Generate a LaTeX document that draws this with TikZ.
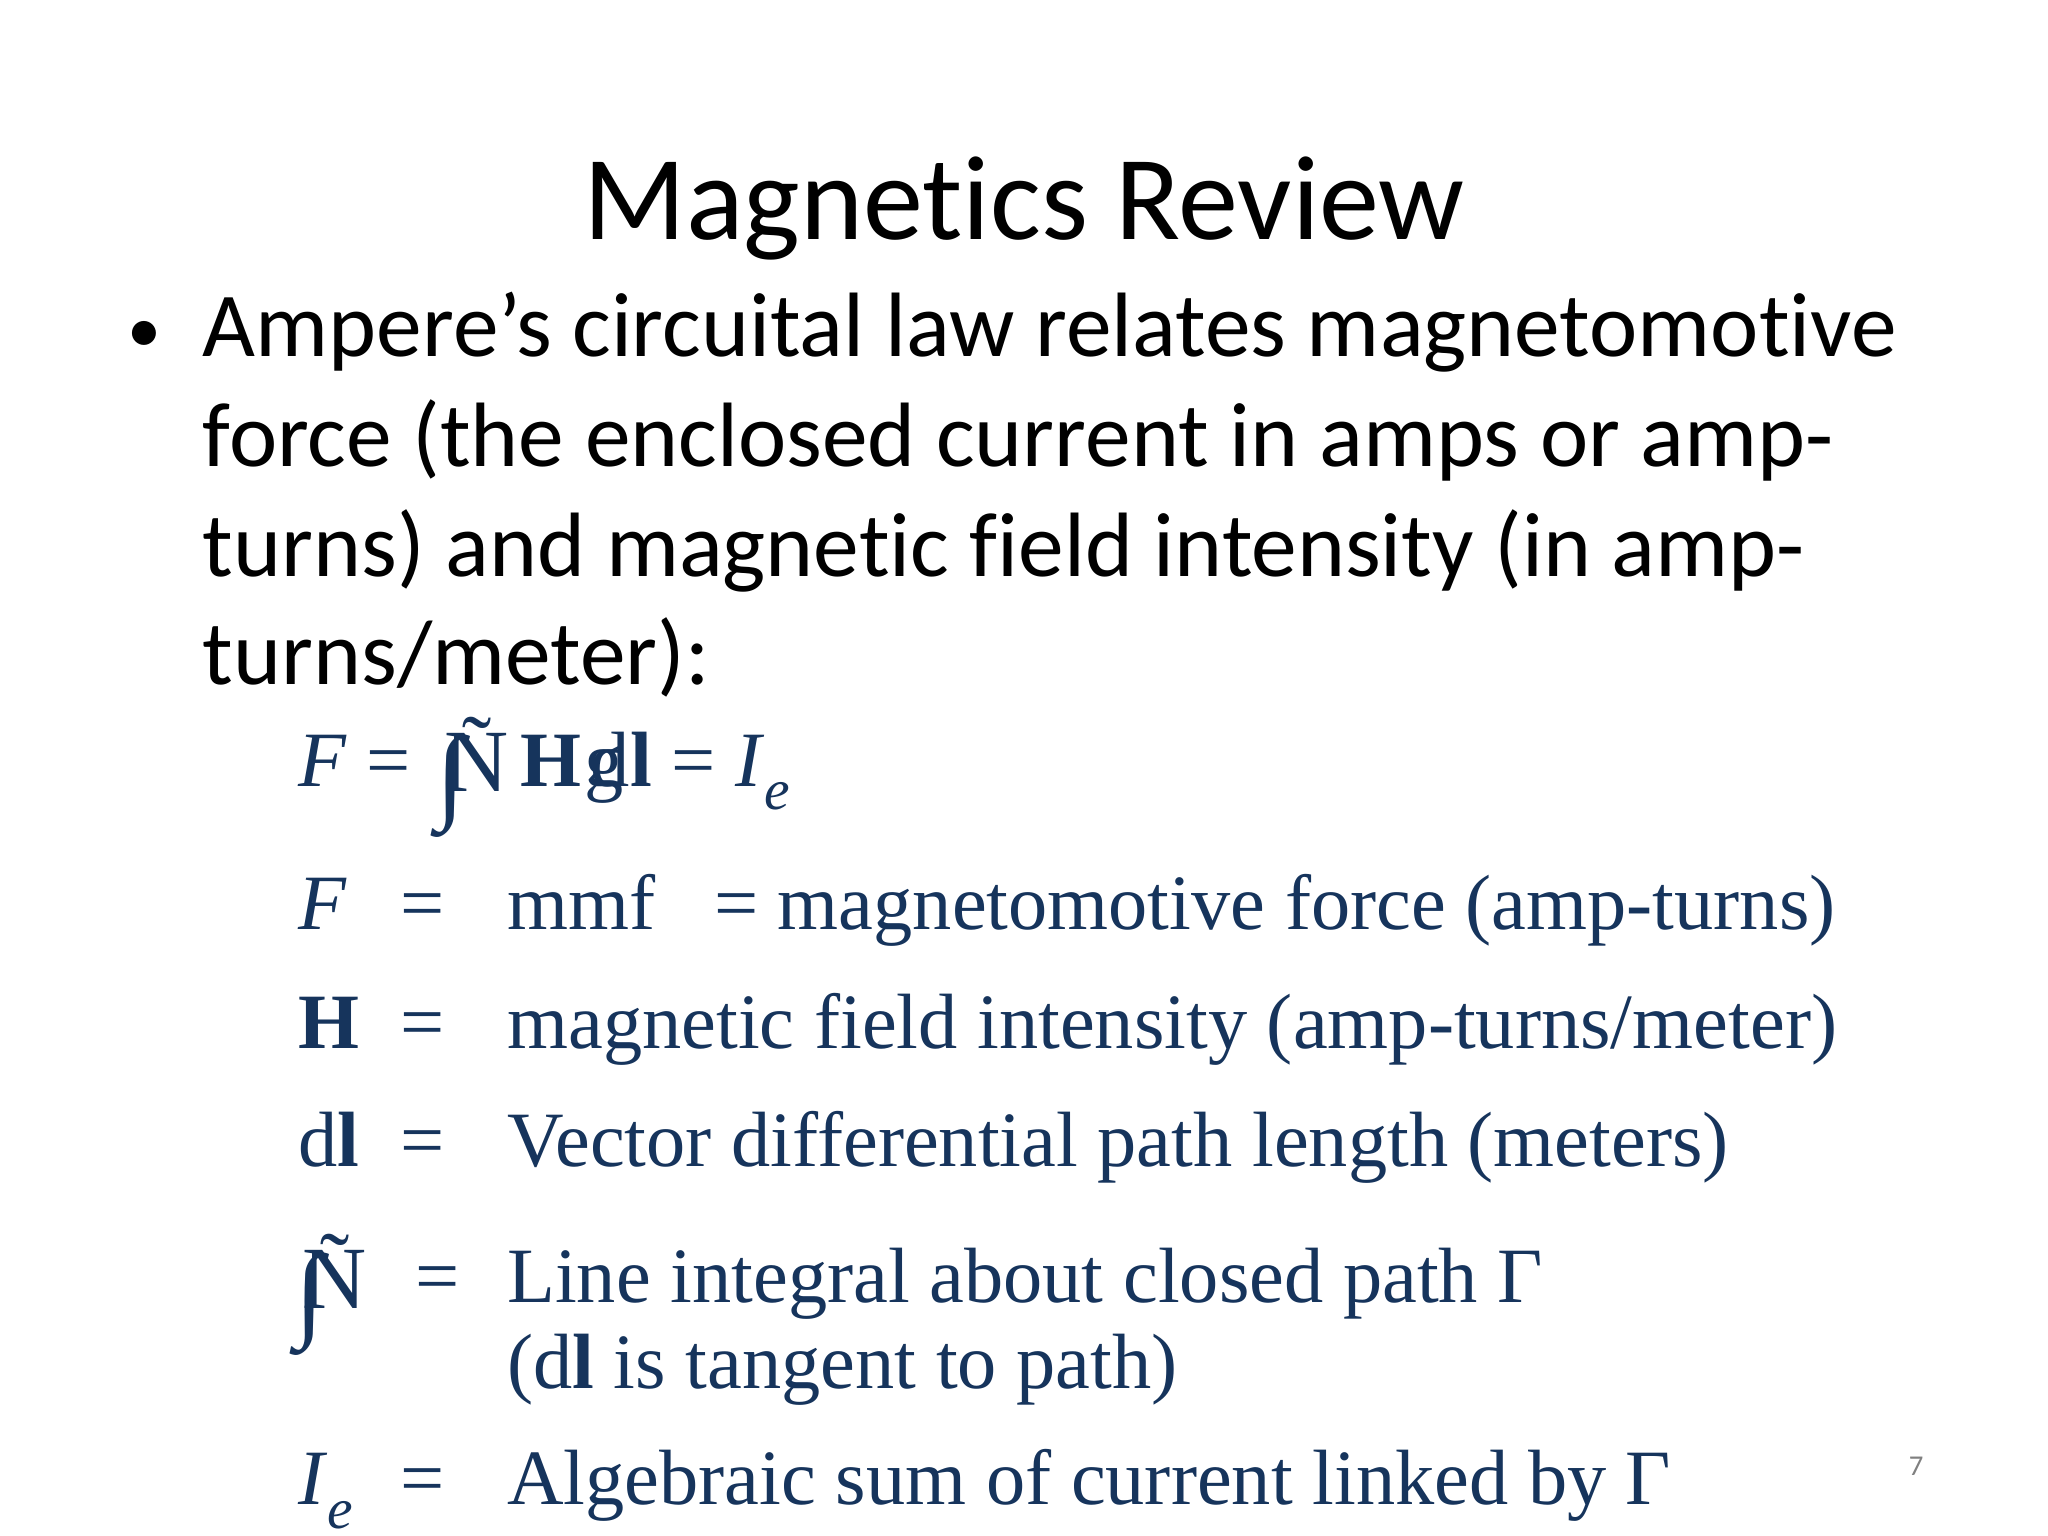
\documentclass[tikz,border=0pt]{standalone}
\usepackage{fontspec}
\setmainfont{Liberation Serif}
\newfontfamily\calfont[Ligatures=NoCommon]{Carlito}
\definecolor{eqblue}{RGB}{22,52,92}
\newcommand{\subE}{\raisebox{-0.3em}{\fontsize{22}{24}\selectfont\textit{e}}}
\begin{document}
\begin{tikzpicture}[x=0.5pt,y=-0.5pt,
  tt/.style={anchor=base west,inner sep=0pt,font=\calfont\fontsize{35}{42}\selectfont},
  eq/.style={anchor=base west,inner sep=0pt,text=eqblue,font=\fontsize{30}{36}\selectfont}]
\useasboundingbox (0,0) rectangle (1568,1176);
\node[anchor=base,inner sep=0pt,font=\calfont\fontsize{46}{54}\selectfont] (title) at (784,183) {Magnetics Review};
\node[tt,font=\calfont\fontsize{26}{30}\selectfont] (bul) at (97,270) {•};
\node[tt] (l1) at (155,273) {Ampere’s circuital law relates magnetomotive};
\node[tt] (l2) at (155,357) {force (the enclosed current in amps or amp-};
\node[tt] (l3) at (155,441) {turns) and magnetic field intensity (in amp-};
\node[tt] (l4) at (155,524) {turns/meter):};
% equation
\node[eq] (e1) at (228,602) {\textit{F} =};
\node[eq,font=\fontsize{40}{44}\selectfont] (int1) at (334,620) {∫};
\node[eq,font=\fontsize{34}{40}\selectfont] (N1) at (340,606) {Ñ};
\node[eq] (e2) at (398,602) {\textbf{H}};
\node[eq] (e3) at (447,602) {g};
\node[eq] (e4) at (452,602) {d\textbf{l} = \textit{I}\subE};
% definitions
\node[eq] (a1) at (228,712) {\textit{F}};
\node[eq] (a2) at (306,712) {=};
\node[eq] (a3) at (388,712) {mmf\ \ \ = magnetomotive force (amp-turns)};
\node[eq] (b1) at (228,803) {\textbf{H}};
\node[eq] (b2) at (306,803) {=};
\node[eq] (b3) at (388,803) {magnetic field intensity (amp-turns/meter)};
\node[eq] (c1) at (228,893) {d\textbf{l}};
\node[eq] (c2) at (306,893) {=};
\node[eq] (c3) at (388,893) {Vector differential path length (meters)};
\node[eq,font=\fontsize{40}{44}\selectfont] (int2) at (226,1016) {∫};
\node[eq,font=\fontsize{34}{40}\selectfont] (N2) at (231,1002) {Ñ};
\node[eq] (d2) at (318,997) {=};
\node[eq] (d3) at (388,997) {Line integral about closed path Γ};
\node[eq] (d4) at (388,1063) {(d\textbf{l} is tangent to path)};
\node[eq] (f1) at (228,1152) {\textit{I}\subE};
\node[eq] (f2) at (306,1152) {=};
\node[eq] (f3) at (388,1152) {Algebraic sum of current linked by Γ};
\node[anchor=base,inner sep=0pt,text=gray,font=\calfont\fontsize{11}{13}\selectfont] (pg) at (1467,1130) {7};
\end{tikzpicture}
\end{document}
